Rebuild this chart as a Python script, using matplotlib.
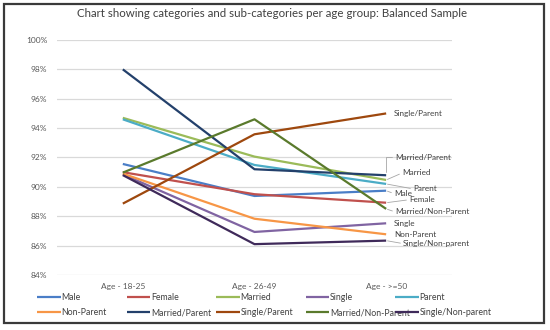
import matplotlib.pyplot as plt
from matplotlib.patches import Rectangle
from matplotlib.ticker import PercentFormatter

plt.rcParams['font.family'] = ['Lato', 'DejaVu Sans']

# data
age_groups = ['Age - 18-25', 'Age - 26-49', 'Age - >=50']
series_names = ['Male', 'Female', 'Married', 'Single', 'Parent',
                'Non-Parent', 'Married/Parent', 'Single/Parent',
                'Married/Non-Parent', 'Single/Non-parent']
male = [0.9156, 0.8938, 0.8974]
female = [0.9100, 0.8950, 0.8892]
married = [0.9470, 0.9206, 0.9047]
single = [0.9085, 0.8693, 0.8752]
parent = [0.9460, 0.9149, 0.9020]
non_parent = [0.9090, 0.8783, 0.8677]
married_parent = [0.9800, 0.9120, 0.9079]
single_parent = [0.8886, 0.9358, 0.9500]
married_non_parent = [0.9097, 0.9460, 0.8850]
single_non_parent = [0.9080, 0.8610, 0.8634]

colors = ['#4A7EC7', '#C0504D', '#9BBB59', '#8064A2', '#4BACC6',
          '#F79646', '#23406B', '#9E480E', '#5A7A2C', '#3F2A5A']

# label offsets (pixels) from the last point of each line
label_offsets = [(8, -3), (23, 3), (16, 7), (8, 0), (27, -5),
                 (8, 0), (9, 18), (8, 0), (9, -3), (17, -3)]

all_series = [male, female, married, single, parent, non_parent,
              married_parent, single_parent, married_non_parent,
              single_non_parent]

fig = plt.figure(figsize=(5.5, 3.3), dpi=100)
ax = fig.add_axes([0.1036, 0.1667, 0.7182, 0.7121])

x = list(range(len(age_groups)))
handles = []
for name, vals, col, off in zip(series_names, all_series, colors, label_offsets):
    ln, = ax.plot(x, vals, color=col, linewidth=1.6, label=name,
                  solid_capstyle='butt')
    handles.append(ln)
    arrow = None
    if abs(off[1]) > 10:
        arrow = dict(arrowstyle='-', color='#A6A6A6', lw=0.6,
                     shrinkA=0, shrinkB=2, relpos=(0, 0.5),
                     connectionstyle='angle,angleA=0,angleB=90,rad=0')
    elif abs(off[1]) > 2:
        arrow = dict(arrowstyle='-', color='#A6A6A6', lw=0.6,
                     shrinkA=0, shrinkB=1, relpos=(0, 0.5))
    ax.annotate(name, xy=(x[-1], vals[-1]), xytext=off,
                textcoords='offset pixels', ha='left', va='center',
                fontsize=5.9, color='#404040', arrowprops=arrow)

ax.set_xlim(-0.5, 2.5)
ax.set_ylim(0.84, 1.00)
ax.set_yticks([0.84 + 0.02 * i for i in range(9)])
ax.yaxis.set_major_formatter(PercentFormatter(1.0, decimals=0))
ax.set_xticks(x)
ax.set_xticklabels(age_groups)
ax.tick_params(axis='both', length=0, labelsize=6, labelcolor='#595959')
ax.tick_params(axis='x', pad=6)
ax.tick_params(axis='y', pad=7)
ax.grid(axis='y', color='#D9D9D9', linewidth=0.9)
ax.set_axisbelow(True)
for s in ax.spines.values():
    s.set_visible(False)

fig.suptitle('Chart showing categories and sub-categories per age group: Balanced Sample',
             x=0.495, y=0.975, fontsize=8.3, color='#404040')

# legend: 2 rows x 5 columns, filled row by row, fixed column spacing
for j in range(5):
    fig.legend(handles=[handles[j], handles[j + 5]],
               loc='upper left', bbox_to_anchor=((37 + 89.5 * j) / 550, 0.113),
               frameon=False, fontsize=6.3, handlelength=2.7,
               handletextpad=0.1, labelspacing=0.75, borderaxespad=0,
               borderpad=0, labelcolor='#404040')

fig.patches.append(Rectangle((0.0073, 0.0212), 0.9818, 0.9667,
                             transform=fig.transFigure, fill=False,
                             edgecolor='#3A3A3A', linewidth=1.6))

fig.savefig('out.png', dpi=100)
